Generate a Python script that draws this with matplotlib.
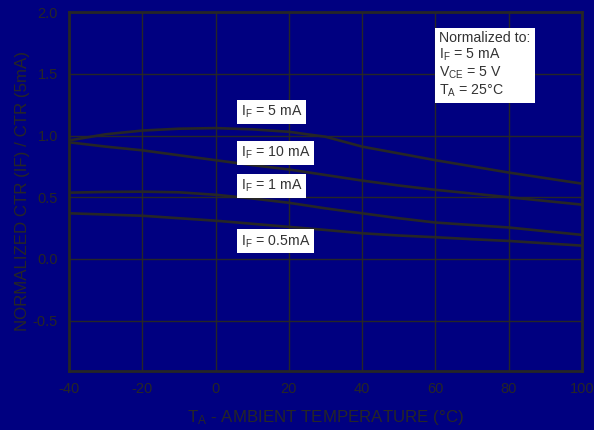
import matplotlib
matplotlib.use("Agg")
import matplotlib.pyplot as plt

plt.rcParams["font.family"] = ["Liberation Sans", "DejaVu Sans"]
plt.rcParams["mathtext.default"] = "regular"
plt.rcParams["axes.unicode_minus"] = False

# ambient temperature (deg C) and normalized CTR for each forward current
temp = [-40, -30, -20, -10, 0, 10, 20, 30, 40, 50, 60, 70, 80, 90, 100]
ctr_5ma = [0.96, 1.01, 1.04, 1.055, 1.06, 1.05, 1.03, 0.99, 0.91, 0.855, 0.80, 0.75, 0.70, 0.655, 0.61]
ctr_10ma = [0.945, 0.91, 0.88, 0.84, 0.80, 0.76, 0.725, 0.68, 0.635, 0.595, 0.56, 0.53, 0.50, 0.47, 0.44]
ctr_1ma = [0.537, 0.543, 0.545, 0.54, 0.52, 0.49, 0.455, 0.41, 0.37, 0.33, 0.295, 0.275, 0.255, 0.225, 0.195]
ctr_05ma = [0.37, 0.36, 0.35, 0.33, 0.31, 0.285, 0.26, 0.235, 0.208, 0.19, 0.176, 0.16, 0.146, 0.127, 0.108]

series = [ctr_5ma, ctr_10ma, ctr_1ma, ctr_05ma]
labels = ["I$_F$ = 5 mA", "I$_F$ = 10 mA", "I$_F$ = 1 mA", "I$_F$ = 0.5mA"]
label_y = [1.19, 0.857, 0.589, 0.143]

x_ticks = [-40, -20, 0, 20, 40, 60, 80, 100]
y_ticks = [-0.5, 0.0, 0.5, 1.0, 1.5, 2.0]

bg = "#000080"
ink = "#262626"

fig = plt.figure(figsize=(5.94, 4.30), dpi=100, facecolor=bg)
ax = fig.add_axes([0.1162, 0.1379, 0.8636, 0.8341], facecolor=bg)

for vals in series:
    ax.plot(temp, vals, color=ink, linewidth=1.9, zorder=3)

for txt, yv in zip(labels, label_y):
    ax.text(6.9, yv, txt, fontsize=10.2, color="#333333", va="center", ha="left", zorder=5,
            bbox=dict(boxstyle="square,pad=0.28", facecolor="white", edgecolor="none"))

ax.text(61.0, 1.85, "Normalized to:\nI$_F$ = 5 mA\nV$_{CE}$ = 5 V\nT$_A$ = 25°C",
        fontsize=10.2, color="#333333", va="top", ha="left", linespacing=1.15, zorder=5,
        bbox=dict(boxstyle="square,pad=0.3", facecolor="white", edgecolor="none"))

ax.set_xlim(-40, 100)
ax.set_ylim(-0.905, 2.0)
ax.set_xticks(x_ticks)
ax.set_yticks(y_ticks)
ax.set_yticklabels([f"{v:.1f}" for v in y_ticks])
ax.grid(True, color=ink, linewidth=1.0, zorder=1)
ax.set_axisbelow(True)
ax.tick_params(length=0, colors=ink, labelsize=10.5, pad=8)
for sp in ax.spines.values():
    sp.set_color(ink)
    sp.set_linewidth(2.0)

ax.set_xlabel("T$_A$ - AMBIENT TEMPERATURE (°C)", fontsize=12.2, color=ink, labelpad=9)
ax.set_ylabel("NORMALIZED CTR (IF) / CTR (5mA)", fontsize=12.2, color=ink)
ax.yaxis.set_label_coords(-0.077, 0.5)

fig.savefig("out.png", dpi=100, facecolor=bg)
